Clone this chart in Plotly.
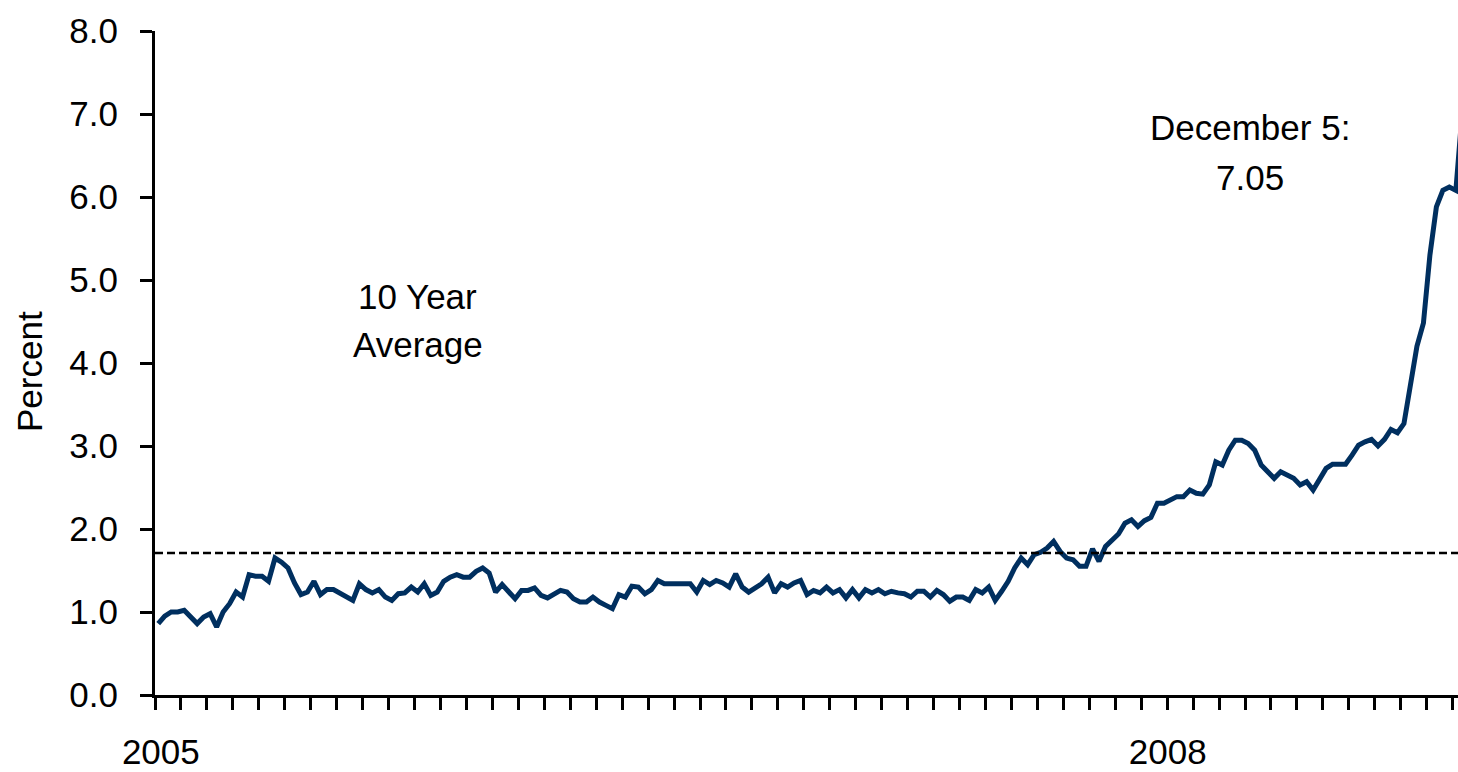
import plotly.graph_objects as go

# Weekly values, January 2005 - December 5, 2008 (percent)
VALUES = [
    0.86, 0.95, 1.00, 1.00, 1.02, 0.95, 0.86, 0.94, 0.98, 0.82,
    1.00, 1.10, 1.24, 1.18, 1.45, 1.43, 1.43, 1.37, 1.65, 1.60,
    1.53, 1.35, 1.21, 1.24, 1.37, 1.21, 1.27, 1.27, 1.23, 1.18,
    1.14, 1.34, 1.27, 1.23, 1.27, 1.18, 1.14, 1.22, 1.23, 1.30,
    1.24, 1.34, 1.20, 1.24, 1.37, 1.42, 1.45, 1.42, 1.42, 1.49,
    1.53, 1.47, 1.24, 1.33, 1.24, 1.16, 1.26, 1.26, 1.29, 1.20,
    1.17, 1.22, 1.26, 1.24, 1.16, 1.12, 1.12, 1.18, 1.12, 1.08,
    1.04, 1.21, 1.18, 1.31, 1.30, 1.22, 1.27, 1.38,
    1.34, 1.34, 1.34, 1.34, 1.34, 1.24, 1.38, 1.33, 1.38, 1.35,
    1.30, 1.46, 1.30, 1.24, 1.29, 1.34, 1.42, 1.23, 1.34, 1.30,
    1.35, 1.38, 1.21, 1.26, 1.23, 1.30, 1.23, 1.27, 1.17, 1.27,
    1.17, 1.27, 1.23, 1.27, 1.22, 1.25, 1.23, 1.22, 1.18,
    1.25, 1.25, 1.18, 1.26, 1.21, 1.13, 1.18, 1.18, 1.14, 1.27,
    1.23, 1.30, 1.14, 1.25, 1.37, 1.53, 1.65, 1.57, 1.69, 1.72,
    1.77, 1.85, 1.73, 1.65, 1.63, 1.55, 1.55, 1.76, 1.61, 1.79,
    1.87, 1.94, 2.07, 2.11, 2.03, 2.10, 2.14,
    2.31, 2.31, 2.35, 2.39, 2.39, 2.47, 2.43, 2.42, 2.53, 2.81,
    2.77, 2.95, 3.07, 3.07, 3.03, 2.95, 2.77, 2.69, 2.61, 2.69,
    2.65, 2.61, 2.53, 2.57, 2.47, 2.61, 2.73, 2.78, 2.78, 2.78,
    2.89, 3.01, 3.05, 3.08, 3.00, 3.08, 3.20, 3.16, 3.27,
    3.70, 4.20, 4.48, 5.30, 5.88, 6.08, 6.12, 6.08, 7.05,
]
WEEKS = list(range(len(VALUES)))
TEN_YEAR_AVERAGE = 1.71
YEAR_LABELS = ["2005", "2008"]
YEAR_POS = [0.4, 155.6]
Y_TICKS = [0, 1, 2, 3, 4, 5, 6, 7, 8]

FONT = "Liberation Sans, Arial, sans-serif"
FS = 35

fig = go.Figure()
fig.add_trace(go.Scatter(
    x=WEEKS, y=VALUES, mode="lines",
    line=dict(color="#002F5F", width=5),
    hoverinfo="skip", showlegend=False,
))
fig.add_shape(type="line", xref="paper", x0=0, x1=1, yref="y",
              y0=TEN_YEAR_AVERAGE, y1=TEN_YEAR_AVERAGE,
              line=dict(color="black", width=2.5, dash="8px,4px"))

fig.update_layout(
    width=1458, height=772,
    margin=dict(l=155, r=0, t=31, b=77),
    paper_bgcolor="white", plot_bgcolor="white",
    font=dict(family=FONT, size=FS, color="black"),
    showlegend=False,
)
fig.update_xaxes(
    range=[-0.5, 200.33],
    tickmode="array", tickvals=YEAR_POS, ticktext=YEAR_LABELS,
    ticks="", ticklabelstandoff=24,
    showline=True, linecolor="black", linewidth=3,
    showgrid=False, zeroline=False,
    tickfont=dict(family=FONT, size=FS, color="black"),
    minor=dict(tickmode="linear", tick0=-0.5, dtick=4, ticks="outside",
               ticklen=12, tickwidth=2.5, tickcolor="black", showgrid=False),
)
fig.update_yaxes(
    range=[0, 8], tickmode="array", tickvals=Y_TICKS, tickformat=".1f",
    ticks="outside", ticklen=12, tickwidth=2.5, tickcolor="black",
    ticklabelstandoff=15,
    showline=True, linecolor="black", linewidth=3,
    showgrid=False, zeroline=False,
    tickfont=dict(family=FONT, size=FS, color="black"),
)

ann = dict(showarrow=False, font=dict(family=FONT, size=FS, color="black"),
           xanchor="center", yanchor="middle")
fig.add_annotation(x=40, y=4.80, xref="x", yref="y", text="10 Year", **ann)
fig.add_annotation(x=40, y=4.22, xref="x", yref="y", text="Average", **ann)
fig.add_annotation(x=168.3, y=6.84, xref="x", yref="y", text="December 5:", **ann)
fig.add_annotation(x=168.2, y=6.23, xref="x", yref="y", text="7.05", **ann)
fig.add_annotation(x=(30 - 155) / 1303, y=(695 - 372) / 664, xref="paper", yref="paper",
                   text="Percent", textangle=-90, **ann)

fig.write_html("out.html")
